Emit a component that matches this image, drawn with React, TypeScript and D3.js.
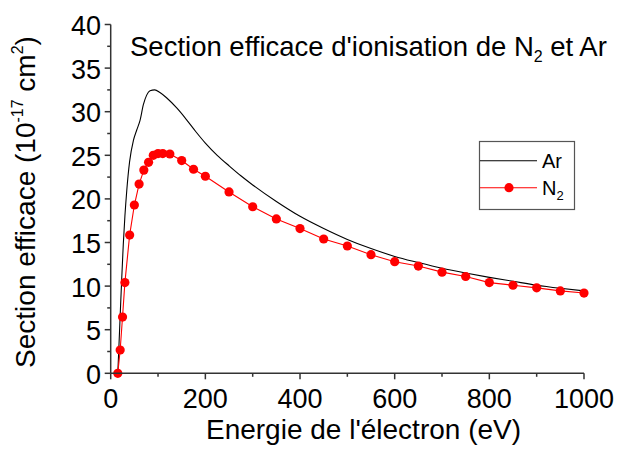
import React from "react";
import * as d3 from "d3";

const n2Energy = [15, 20, 25, 30, 40, 50, 60, 70, 80, 90, 100, 110, 125, 150, 175, 200, 250, 300, 350, 400, 450, 500, 550, 600, 650, 700, 750, 800, 850, 900, 950, 1000];
const n2Sigma = [0, 2.67, 6.45, 10.4, 15.85, 19.3, 21.7, 23.3, 24.2, 25.0, 25.2, 25.2, 25.15, 24.4, 23.4, 22.6, 20.8, 19.1, 17.7, 16.6, 15.4, 14.6, 13.6, 12.8, 12.3, 11.6, 11.1, 10.4, 10.1, 9.8, 9.45, 9.2];

const arEnergy = [15, 17, 20, 23, 26.6, 30, 34, 40, 48, 55, 62, 69, 76, 83, 93, 104, 118, 140, 160, 180, 200, 225, 250, 275, 300, 350, 400, 450, 500, 550, 600, 650, 700, 750, 800, 850, 900, 950, 1000];
const arSigma = [0, 2.6, 6.6, 10.5, 14.8, 18.0, 21.0, 24.3, 26.7, 27.9, 29.0, 30.8, 31.9, 32.4, 32.5, 32.2, 31.6, 30.4, 29.1, 27.7, 26.4, 25.0, 23.8, 22.65, 21.6, 19.7, 18.0, 16.6, 15.35, 14.3, 13.4, 12.7, 12.05, 11.5, 11.0, 10.55, 10.1, 9.75, 9.45];

const xMajorTicks = [0, 200, 400, 600, 800, 1000];
const xMinorTicks = [100, 300, 500, 700, 900];
const yMajorTicks = [0, 5, 10, 15, 20, 25, 30, 35, 40];
const yMinorTicks = [2.5, 7.5, 12.5, 17.5, 22.5, 27.5, 32.5, 37.5];

const FONT = "'Liberation Sans', Arial, Helvetica, sans-serif";
const AXIS = "#333";

export default function App() {
  const x = d3.scaleLinear().domain([0, 1000]).range([110.7, 584]);
  const y = d3.scaleLinear().domain([0, 40]).range([373.3, 24.5]);

  const arPts: [number, number][] = arEnergy.map((e, i) => [e, arSigma[i]]);
  const n2Pts: [number, number][] = n2Energy.map((e, i) => [e, n2Sigma[i]]);

  const arLine = d3
    .line<[number, number]>()
    .x((d) => x(d[0]))
    .y((d) => y(d[1]))
    .curve(d3.curveMonotoneX);
  const n2Line = d3
    .line<[number, number]>()
    .x((d) => x(d[0]))
    .y((d) => y(d[1]));

  const x0 = x(0);
  const y0 = y(0);

  return (
    <svg
      width={624}
      height={453}
      style={{ position: "absolute", left: 0, top: 0, background: "#fff" }}
      fontFamily={FONT}
    >
      <rect x={0} y={0} width={624} height={453} fill="#fff" />
      {/* data */}
      <path d={arLine(arPts) || ""} fill="none" stroke="#000" strokeWidth={1.1} />
      <path d={n2Line(n2Pts) || ""} fill="none" stroke="#ff0000" strokeWidth={1.1} />
      {n2Pts.map((d, i) => (
        <circle key={i} cx={x(d[0])} cy={y(d[1])} r={4.6} fill="#ff0000" />
      ))}

      {/* axes */}
      <line x1={x0} x2={x(1000)} y1={y0} y2={y0} stroke={AXIS} strokeWidth={1.5} />
      <line x1={x0} x2={x0} y1={y0} y2={y(40)} stroke={AXIS} strokeWidth={1.5} />
      {xMajorTicks.map((t) => (
        <g key={"xm" + t}>
          <line x1={x(t)} x2={x(t)} y1={y0} y2={y0 + 6} stroke={AXIS} strokeWidth={1.5} />
          <text x={x(t)} y={408} textAnchor="middle" fontSize={27} fill="#000">
            {t}
          </text>
        </g>
      ))}
      {xMinorTicks.map((t) => (
        <line key={"xn" + t} x1={x(t)} x2={x(t)} y1={y0} y2={y0 + 3.5} stroke={AXIS} strokeWidth={1.5} />
      ))}
      {yMajorTicks.map((t) => (
        <g key={"ym" + t}>
          <line x1={x0 - 6} x2={x0} y1={y(t)} y2={y(t)} stroke={AXIS} strokeWidth={1.5} />
          <text x={101} y={y(t) + 10.5} textAnchor="end" fontSize={27} fill="#000">
            {t}
          </text>
        </g>
      ))}
      {yMinorTicks.map((t) => (
        <line key={"yn" + t} x1={x0 - 3.5} x2={x0} y1={y(t)} y2={y(t)} stroke={AXIS} strokeWidth={1.5} />
      ))}

      {/* axis titles */}
      <text x={363.5} y={439} textAnchor="middle" fontSize={28} fill="#000">
        Energie de l'électron (eV)
      </text>
      <text transform="translate(35,202) rotate(-90)" textAnchor="middle" fontSize={28} fill="#000">
        Section efficace (10
        <tspan fontSize={16} dy={-12}>-17</tspan>
        <tspan dy={12}> cm</tspan>
        <tspan fontSize={16} dy={-12}>2</tspan>
        <tspan dy={12}>)</tspan>
      </text>

      {/* title */}
      <text x={130} y={56} fontSize={27.5} fill="#000">
        Section efficace d'ionisation de N
        <tspan fontSize={16} dy={6}>2</tspan>
        <tspan dy={-6}> et Ar</tspan>
      </text>

      {/* legend */}
      <rect x={479.5} y={141.5} width={95} height={68} fill="#fff" stroke="#555" strokeWidth={1.2} />
      <line x1={480} x2={537} y1={160.7} y2={160.7} stroke="#000" strokeWidth={1.1} />
      <text x={542} y={168} fontSize={20} fill="#000">Ar</text>
      <line x1={480} x2={537} y1={187.7} y2={187.7} stroke="#ff0000" strokeWidth={1.1} />
      <circle cx={509} cy={187.7} r={4.6} fill="#ff0000" />
      <text x={542} y={195} fontSize={20} fill="#000">
        N<tspan fontSize={13} dy={5}>2</tspan>
      </text>
    </svg>
  );
}
